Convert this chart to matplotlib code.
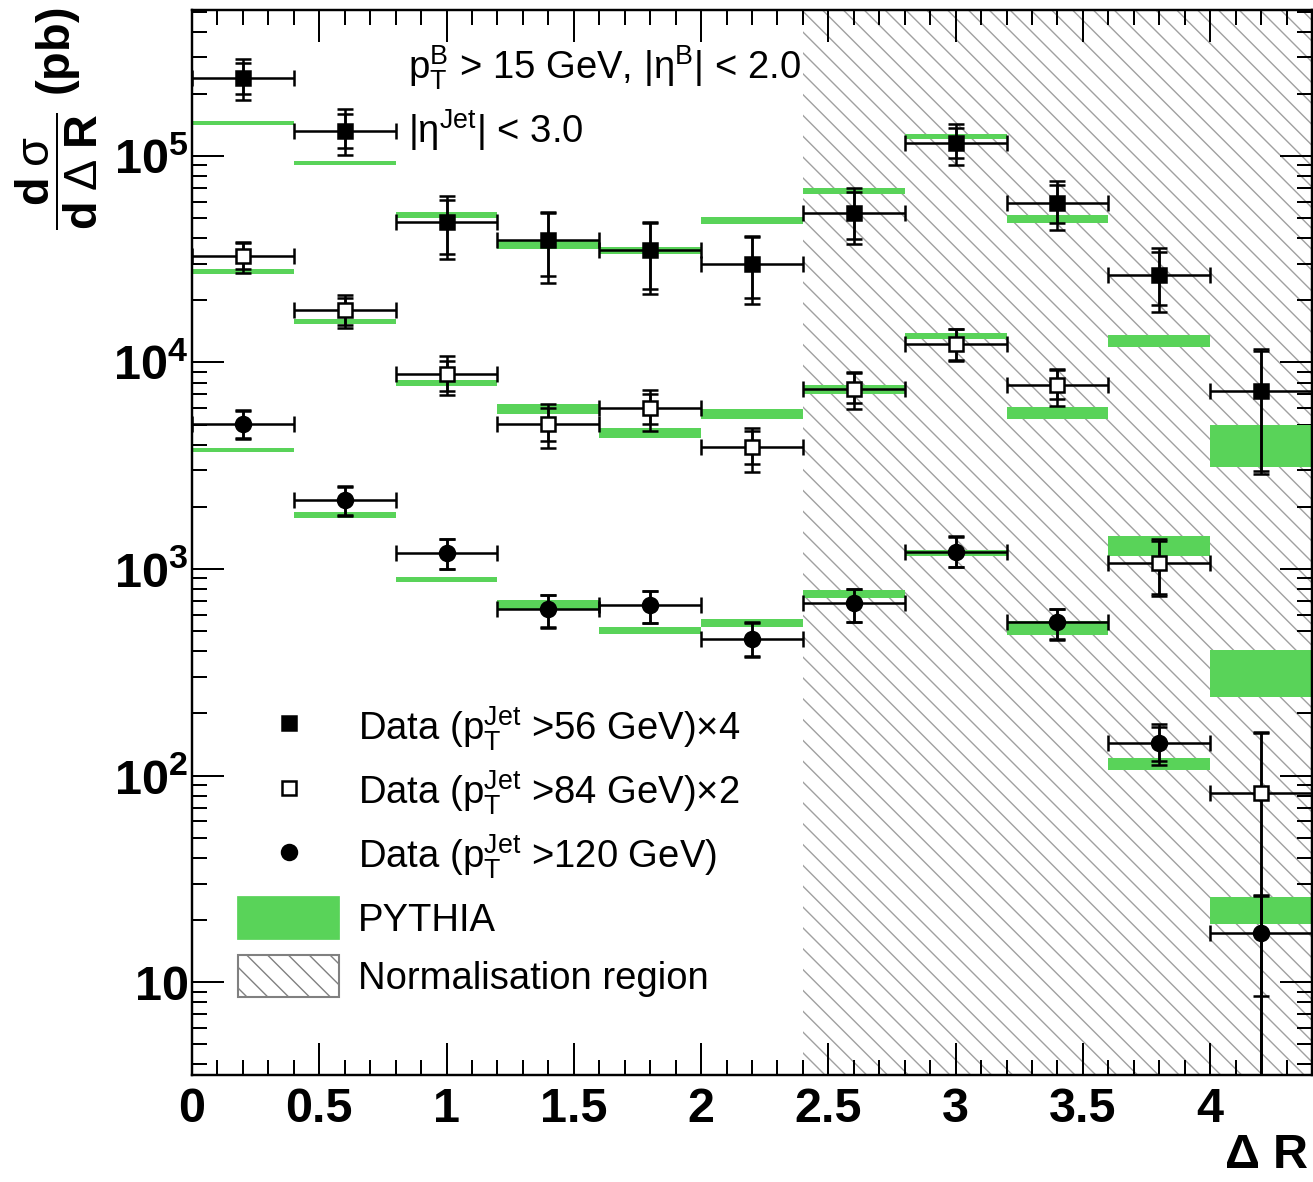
import matplotlib
matplotlib.use("Agg")
import matplotlib.pyplot as plt
from matplotlib.lines import Line2D
from matplotlib.patches import Patch
from matplotlib.ticker import LogLocator, FuncFormatter, MultipleLocator, NullFormatter
import numpy as np

plt.rcParams['font.family'] = ['Liberation Sans', 'DejaVu Sans']
plt.rcParams['mathtext.fontset'] = 'custom'
plt.rcParams['mathtext.rm'] = 'Liberation Sans'
plt.rcParams['mathtext.it'] = 'Liberation Sans:italic'
plt.rcParams['mathtext.bf'] = 'Liberation Sans:bold'
plt.rcParams['hatch.linewidth'] = 0.8
plt.rcParams['hatch.color'] = '#a0a0a0'

# bins in Delta R
bin_lo = [0.0, 0.4, 0.8, 1.2, 1.6, 2.0, 2.4, 2.8, 3.2, 3.6, 4.0]
bin_mid = [0.2, 0.6, 1.0, 1.4, 1.8, 2.2, 2.6, 3.0, 3.4, 3.8, 4.2]

# Data, pT jet > 56 GeV (x4)
d56 = [2.38e5, 1.32e5, 4.8e4, 3.93e4, 3.51e4, 3.0e4, 5.3e4, 1.16e5, 5.93e4, 2.66e4, 7.3e3]
d56_stat_lo = [2.0e5, 1.09e5, 3.36e4, 2.62e4, 2.28e4, 2.06e4, 3.97e4, 9.8e4, 4.74e4, 1.9e4, 2.99e3]
d56_stat_hi = [2.82e5, 1.6e5, 6.1e4, 5.3e4, 4.75e4, 4.05e4, 6.7e4, 1.37e5, 7.24e4, 3.44e4, 1.14e4]
d56_tot_lo = [1.87e5, 1.01e5, 3.18e4, 2.43e4, 2.15e4, 1.92e4, 3.75e4, 9.0e4, 4.39e4, 1.76e4, 2.9e3]
d56_tot_hi = [2.94e5, 1.69e5, 6.4e4, 5.36e4, 4.8e4, 4.1e4, 7.0e4, 1.43e5, 7.57e4, 3.59e4, 1.16e4]

# Data, pT jet > 84 GeV (x2)
d84 = [3.28e4, 1.8e4, 8.8e3, 5.05e3, 6.04e3, 3.91e3, 7.46e3, 1.23e4, 7.8e3, 1.07e3, 82]
d84_stat_lo = [2.84e4, 1.52e4, 7.3e3, 4.18e3, 5.05e3, 3.24e3, 6.38e3, 1.03e4, 6.67e3, 760, 2.0]
d84_stat_hi = [3.8e4, 2.06e4, 1.02e4, 6.04e3, 7.06e3, 4.67e3, 8.9e3, 1.45e4, 9.2e3, 1.36e3, 160]
d84_tot_lo = [2.72e4, 1.47e4, 6.98e3, 3.86e3, 4.67e3, 2.96e3, 5.97e3, 1.02e4, 6.18e3, 740, 1.5]
d84_tot_hi = [3.84e4, 2.13e4, 1.08e4, 6.3e3, 7.38e3, 4.83e3, 9.0e3, 1.46e4, 9.33e3, 1.4e3, 163]

# Data, pT jet > 120 GeV
d120 = [5.05e3, 2.17e3, 1.19e3, 637, 666, 460, 681, 1.21e3, 556, 144, 17.3]
d120_stat_lo = [4.3e3, 1.82e3, 1.0e3, 522, 547, 378, 557, 1.02e3, 456, 117, 8.6]
d120_stat_hi = [5.85e3, 2.5e3, 1.39e3, 750, 785, 550, 800, 1.43e3, 640, 171, 26.0]
d120_tot_lo = [4.28e3, 1.81e3, 1.0e3, 520, 545, 377, 556, 1.02e3, 455, 112, 1.0]
d120_tot_hi = [5.9e3, 2.53e3, 1.4e3, 752, 787, 551, 804, 1.44e3, 643, 177, 26.3]

# PYTHIA bands (low, high)
py56_lo = [1.41e5, 9.04e4, 5.01e4, 3.55e4, 3.36e4, 4.69e4, 6.55e4, 1.21e5, 4.74e4, 1.19e4, 3.13e3]
py56_hi = [1.48e5, 9.46e4, 5.36e4, 3.88e4, 3.63e4, 5.07e4, 7.0e4, 1.28e5, 5.19e4, 1.36e4, 5.0e3]
py84_lo = [2.69e4, 1.54e4, 7.71e3, 5.65e3, 4.32e3, 5.34e3, 7.06e3, 1.30e4, 5.35e3, 1.15e3, 239]
py84_hi = [2.84e4, 1.63e4, 8.24e3, 6.31e3, 4.83e3, 5.97e3, 7.8e3, 1.39e4, 6.1e3, 1.45e3, 407]
py120_lo = [3.7e3, 1.77e3, 869, 643, 486, 526, 727, 1.15e3, 477, 106, 19.2]
py120_hi = [3.86e3, 1.88e3, 918, 711, 526, 575, 794, 1.23e3, 562, 122, 25.7]

norm_region = (2.4, 4.4)

green = '#59d359'
hatch_col = '#a0a0a0'
lw = 1.45
cap = 4.6
ms = 8.6

fig = plt.figure(figsize=(1313 / 125, 1182 / 125), dpi=125)
ax = fig.add_axes([192 / 1313, 1 - 1075 / 1182, 1120 / 1313, 1065 / 1182])

ax.set_yscale('log')
ax.set_xlim(0, 4.4)
ax.set_ylim(3.55, 5.09e5)

# normalisation region
ax.axvspan(norm_region[0], norm_region[1], facecolor='none', edgecolor=hatch_col,
           hatch='\\\\', linewidth=0, zorder=0)

# PYTHIA bands
for lo, hi in [(py56_lo, py56_hi), (py84_lo, py84_hi), (py120_lo, py120_hi)]:
    lo = np.array(lo)
    hi = np.array(hi)
    ax.bar(bin_lo, hi - lo, bottom=lo, width=0.4, align='edge', color=green,
           linewidth=0, zorder=2)


def draw_data(val, slo, shi, tlo, thi, mfc, marker):
    val = np.array(val)
    tot = [val - np.array(tlo), np.array(thi) - val]
    stat = [val - np.array(slo), np.array(shi) - val]
    ax.errorbar(bin_mid, val, xerr=0.2, yerr=tot, fmt='none', ecolor='k',
                elinewidth=lw, capsize=cap, capthick=lw, zorder=4)
    ax.errorbar(bin_mid, val, yerr=stat, fmt='none', ecolor='k',
                elinewidth=lw, capsize=cap, capthick=lw, zorder=4)
    ax.plot(bin_mid, val, ls='none', marker=marker, ms=ms, mfc=mfc, mec='k',
            mew=lw, zorder=5)


draw_data(d56, d56_stat_lo, d56_stat_hi, d56_tot_lo, d56_tot_hi, 'k', 's')
draw_data(d84, d84_stat_lo, d84_stat_hi, d84_tot_lo, d84_tot_hi, 'white', 's')
draw_data(d120, d120_stat_lo, d120_stat_hi, d120_tot_lo, d120_tot_hi, 'k', 'o')

# axes style (ROOT-like)
for s in ax.spines.values():
    s.set_linewidth(1.4)
ax.xaxis.set_major_locator(MultipleLocator(0.5))
ax.xaxis.set_minor_locator(MultipleLocator(0.1))
ax.yaxis.set_major_locator(LogLocator(base=10, numticks=20))
ax.yaxis.set_minor_locator(LogLocator(base=10, subs=np.arange(2, 10), numticks=20))
ax.yaxis.set_minor_formatter(NullFormatter())


def ylab(v, pos):
    e = int(round(np.log10(v)))
    if e == 1:
        return r'$\mathbf{10}$'
    return r'$\mathbf{10^{%d}}$' % e


def xlab(v, pos):
    return '%g' % v


ax.yaxis.set_major_formatter(FuncFormatter(ylab))
ax.xaxis.set_major_formatter(FuncFormatter(xlab))
ax.tick_params(which='both', direction='in', top=True, right=True, width=1.15)
ax.tick_params(which='major', length=18.4, labelsize=28)
ax.tick_params(which='minor', length=8.6)
ax.tick_params(axis='x', which='major', pad=7)
ax.tick_params(axis='y', which='major', pad=2)
for t in ax.get_xticklabels():
    t.set_fontweight('bold')

# labels
fig.text(1308 / 1313, 4 / 1182, r'$\mathbf{\Delta}$ R', ha='right', va='bottom',
         fontsize=28, fontweight='bold')
fig.text(57 / 1313, 1 - 8 / 1182,
         r'$\dfrac{\mathbf{d}\;\mathrm{\sigma}}{\mathbf{d}\;\mathrm{\Delta}\;\mathbf{R}}$ (pb)',
         rotation=90, ha='center', va='top', fontsize=27, fontweight='bold')

ax.text(0.193, 0.9455, r'$\mathregular{p_{T}^{B}}$ > 15 GeV, |$\mathregular{\eta^{B}}$| < 2.0',
        transform=ax.transAxes, fontsize=22, va='center', ha='left')
ax.text(0.193, 0.887, r'|$\mathregular{\eta^{Jet}}$| < 3.0',
        transform=ax.transAxes, fontsize=22, va='center', ha='left')

handles = [
    Line2D([], [], ls='none', marker='s', ms=ms, mfc='k', mec='k', mew=lw),
    Line2D([], [], ls='none', marker='s', ms=ms, mfc='white', mec='k', mew=lw),
    Line2D([], [], ls='none', marker='o', ms=ms, mfc='k', mec='k', mew=lw),
    Patch(facecolor=green, edgecolor=green),
    Patch(facecolor='white', edgecolor='#808080', hatch='\\\\', linewidth=1.2),
]
labels = [
    r'Data ($\mathregular{p_{T}^{Jet}}$ >56 GeV)$\times$4',
    r'Data ($\mathregular{p_{T}^{Jet}}$ >84 GeV)$\times$2',
    r'Data ($\mathregular{p_{T}^{Jet}}$ >120 GeV)',
    'PYTHIA',
    'Normalisation region',
]
ax.legend(handles, labels, loc='upper left', bbox_to_anchor=(0.041, 0.348),
          frameon=False, fontsize=22, handlelength=2.65, handleheight=1.3,
          handletextpad=0.5, labelspacing=0.42, borderpad=0, borderaxespad=0)

fig.savefig('out.png', dpi=125)
